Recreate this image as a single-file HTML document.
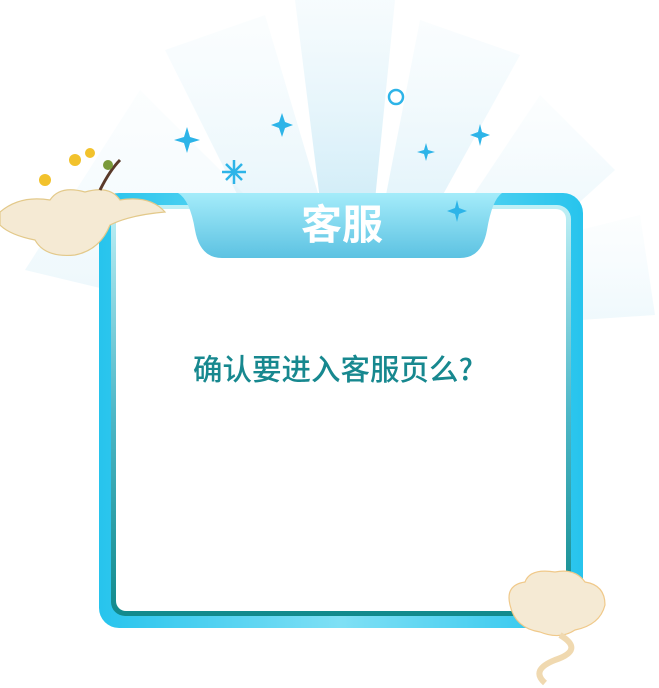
<!DOCTYPE html>
<html><head><meta charset="utf-8"><style>
html,body{margin:0;padding:0;background:#fff;}
#root{position:relative;width:659px;height:688px;overflow:hidden;font-family:"Liberation Sans","Noto Sans CJK SC",sans-serif;}
.abs{position:absolute;}
</style></head><body>
<div id="root">
<svg class="abs" style="left:0;top:0" width="659" height="688">
<defs>
<linearGradient id="ray" x1="0" y1="0" x2="0" y2="1"><stop offset="0" stop-color="#eef8fc" stop-opacity="0.5"/><stop offset="1" stop-color="#cdebf7" stop-opacity="0.9"/></linearGradient>
<linearGradient id="outer" x1="0" y1="0" x2="1" y2="0"><stop offset="0" stop-color="#27c4ed"/><stop offset="0.5" stop-color="#7fe0f5"/><stop offset="1" stop-color="#27c4ed"/></linearGradient>
<linearGradient id="inner" x1="0" y1="0" x2="0" y2="1"><stop offset="0" stop-color="#bff0f6"/><stop offset="0.5" stop-color="#4fb8c8"/><stop offset="1" stop-color="#118a8c"/></linearGradient>
<linearGradient id="tab" x1="0" y1="0" x2="0" y2="1"><stop offset="0" stop-color="#a5ecfa"/><stop offset="1" stop-color="#5cc2e2"/></linearGradient>
</defs>
<polygon points="25,270 140,90 250,200 150,300" fill="url(#ray)" opacity="0.4"/>
<polygon points="165,50 265,15 320,200 240,200" fill="url(#ray)" opacity="0.5"/>
<polygon points="295,0 395,0 375,200 320,200" fill="url(#ray)"/>
<polygon points="420,20 520,55 440,200 385,200" fill="url(#ray)" opacity="0.6"/>
<polygon points="540,95 615,170 560,220 470,200" fill="url(#ray)" opacity="0.4"/>
<polygon points="580,230 640,215 655,315 580,320" fill="url(#ray)" opacity="0.35"/>
<rect x="99" y="193" width="484" height="435" rx="20" fill="url(#outer)"/>
<rect x="111" y="205" width="460" height="411" rx="14" fill="url(#inner)"/>
<rect x="116" y="209" width="450" height="402" rx="10" fill="#fff"/>
<path d="M178,193 L502,193 Q492,200 487,230 Q482,258 460,258 L222,258 Q200,258 195,230 Q190,200 178,193 Z" fill="url(#tab)"/>
<g fill="#2db4e8">
<path d="M187,127 L190,137 L200,140 L190,143 L187,153 L184,143 L174,140 L184,137Z"/>
<path d="M282,113 L285,122 L293,125 L285,128 L282,137 L279,128 L271,125 L279,122Z"/>
<path d="M426,143 L428,150 L435,152 L428,154 L426,161 L424,154 L417,152 L424,150Z"/>
<path d="M480,124 L482,132 L490,135 L482,138 L480,146 L478,138 L470,135 L478,132Z"/>
<path d="M457,200 L459,208 L467,211 L459,214 L457,222 L455,214 L447,211 L455,208Z"/>
</g>
<circle cx="396" cy="97" r="7" fill="none" stroke="#2db4e8" stroke-width="2.5"/>
<g stroke="#2db4e8" stroke-width="2.5"><line x1="234" y1="160" x2="234" y2="184"/><line x1="222" y1="172" x2="246" y2="172"/><line x1="226" y1="164" x2="242" y2="180"/><line x1="242" y1="164" x2="226" y2="180"/></g>
<g>
<path d="M0,212 Q20,195 50,200 Q60,185 85,192 Q110,185 120,200 Q150,195 165,212 Q130,215 110,225 Q100,250 75,255 Q45,258 35,240 Q10,235 0,225Z" fill="#f5ead4" stroke="#e3c98a" stroke-width="1.2"/>
<path d="M100,190 Q110,170 120,160" stroke="#5a3a2a" stroke-width="3" fill="none"/>
<circle cx="75" cy="160" r="6" fill="#f2c22c"/><circle cx="90" cy="153" r="5" fill="#f2c22c"/><circle cx="45" cy="180" r="6" fill="#f2c22c"/><circle cx="108" cy="165" r="5" fill="#7a9a3a"/>
</g>
<g>
<path d="M510,605 Q505,585 525,582 Q530,568 555,572 Q575,568 585,582 Q605,585 605,605 Q600,625 575,630 Q560,640 540,632 Q515,628 510,605Z" fill="#f5ead4" stroke="#f0c98a" stroke-width="1.2"/>
<path d="M560,635 Q585,650 555,660 Q530,670 545,683" stroke="#f0d9b0" stroke-width="6" fill="none"/>
</g>
</svg>
<div class="abs" style="left:222px;top:200px;width:240px;text-align:center;font-size:41px;font-weight:bold;color:#fff;line-height:50px;">客服</div>
<div class="abs" style="left:100px;top:350px;width:466px;text-align:center;font-family:'Noto Sans CJK SC',sans-serif;font-size:29.5px;font-weight:500;color:#17888f;line-height:36px;">确认要进入客服页么?</div>
</div>
</body></html>
